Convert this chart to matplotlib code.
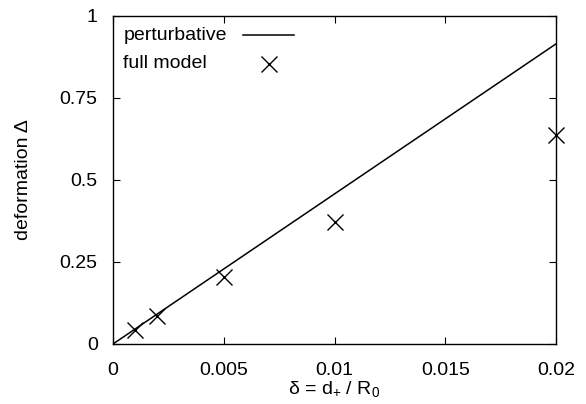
import matplotlib
matplotlib.use("Agg")
import matplotlib.pyplot as plt
from matplotlib.lines import Line2D

plt.rcParams['font.family'] = ['Liberation Sans', 'DejaVu Sans']
plt.rcParams['mathtext.fontset'] = 'custom'
plt.rcParams['mathtext.rm'] = 'Liberation Sans'
plt.rcParams['mathtext.it'] = 'Liberation Sans'
plt.rcParams['mathtext.bf'] = 'Liberation Sans'

# data
line_x = [0.0, 0.02]
line_y = [0.0, 0.915]
full_x = [0.001, 0.002, 0.005, 0.01, 0.02]
full_y = [0.043, 0.086, 0.205, 0.373, 0.637]
xticks = [0, 0.005, 0.01, 0.015, 0.02]
xticklabels = ['0', '0.005', '0.01', '0.015', '0.02']
yticks = [0, 0.25, 0.5, 0.75, 1]
yticklabels = ['0', '0.25', '0.5', '0.75', '1']
labels = ['perturbative', 'full model']

FS = 14
fig = plt.figure(figsize=(5.86, 4.04), dpi=100)
ax = fig.add_axes([113/586, 60/404, (556-113)/586, (344-16)/404])

ax.plot(line_x, line_y, color='black', lw=1.1)
ax.plot(full_x, full_y, ls='none', marker='x', ms=11.5, mew=1.0, color='black',
        clip_on=False)

ax.set_xlim(0, 0.02)
ax.set_ylim(0, 1)
ax.set_xticks(xticks)
ax.set_xticklabels(xticklabels)
ax.set_yticks(yticks)
ax.set_yticklabels(yticklabels)
ax.tick_params(direction='in', top=True, right=True, length=5, width=0.8,
               labelsize=FS, colors='black')
ax.tick_params(axis='x', pad=13)
ax.tick_params(axis='y', pad=11)
for s in ax.spines.values():
    s.set_linewidth(1.0)

ax.set_xlabel(r'δ = d$_{+}$ / R$_{0}$', fontsize=FS, labelpad=0)
ax.set_ylabel('deformation Δ', fontsize=FS, labelpad=20)

# legend (gnuplot style: left-aligned text, key samples to the right)
row_y = [0.942, 0.855]
tx = 0.023
ax.text(tx, row_y[0], labels[0], transform=ax.transAxes, fontsize=FS,
        ha='left', va='center')
ax.text(tx, row_y[1], labels[1], transform=ax.transAxes, fontsize=FS,
        ha='left', va='center')
ax.add_line(Line2D([0.293, 0.409], [row_y[0], row_y[0]], transform=ax.transAxes,
                   color='black', lw=1.1))
ax.add_line(Line2D([0.352], [row_y[1]], transform=ax.transAxes, ls='none',
                   marker='x', ms=11.5, mew=1.0, color='black'))

fig.savefig('out.png', dpi=100)
